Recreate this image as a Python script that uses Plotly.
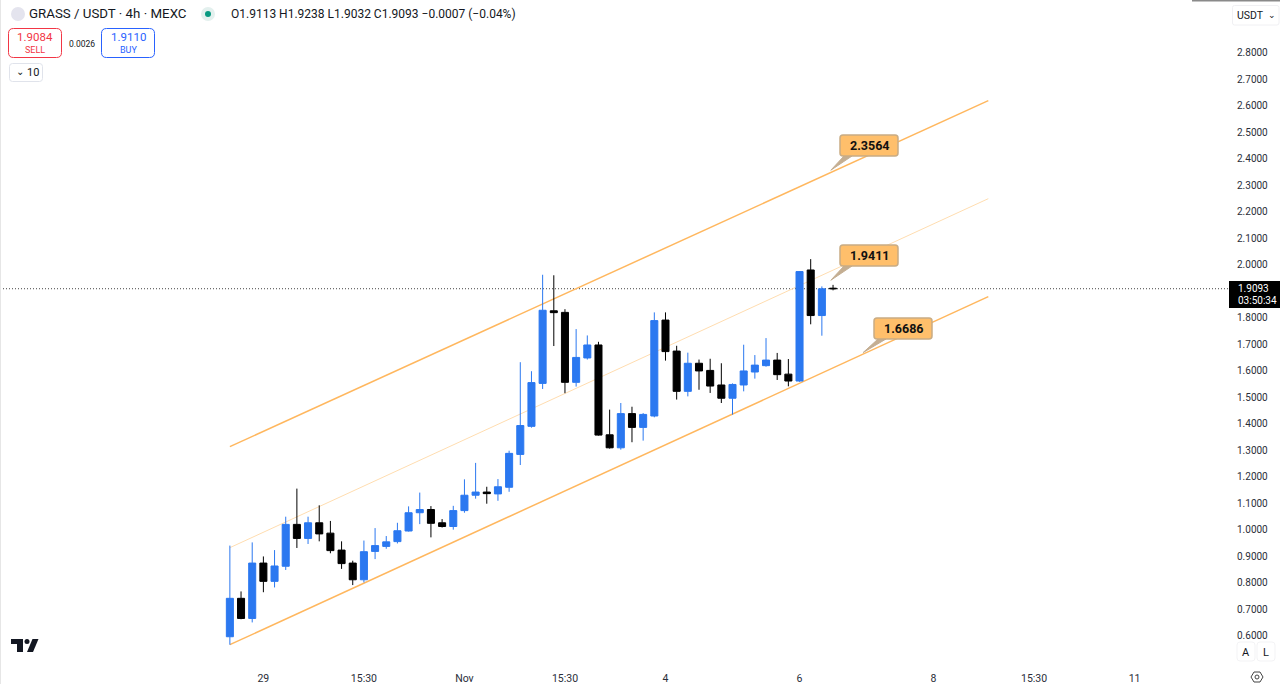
import plotly.graph_objects as go

# 4h candles
opens = [0.596, 0.741, 0.665, 0.874, 0.805, 0.862, 1.020, 0.967, 1.026, 0.987, 0.923,
         0.874, 0.811, 0.918, 0.937, 0.955, 0.995, 1.064, 1.076, 1.026, 1.012, 1.072,
         1.130, 1.142, 1.135, 1.160, 1.284, 1.390, 1.552, 1.826, 1.820, 1.556, 1.648,
         1.697, 1.358, 1.309, 1.438, 1.386, 1.429, 1.791, 1.674, 1.522, 1.628, 1.601,
         1.546, 1.496, 1.546, 1.595, 1.619, 1.640, 1.587, 1.561, 1.980, 1.808, 1.9113]
highs = [0.940, 0.767, 0.952, 0.899, 0.923, 1.049, 1.155, 1.049, 1.092, 1.033, 0.956,
         0.883, 0.959, 1.006, 0.976, 1.026, 1.088, 1.140, 1.089, 1.040, 1.090, 1.190,
         1.252, 1.162, 1.191, 1.298, 1.632, 1.598, 1.962, 1.960, 1.832, 1.757, 1.733,
         1.709, 1.453, 1.478, 1.464, 1.440, 1.820, 1.820, 1.694, 1.668, 1.642, 1.645,
         1.628, 1.552, 1.698, 1.659, 1.723, 1.667, 1.644, 1.975, 2.021, 1.918, 1.9238]
lows = [0.566, 0.662, 0.650, 0.764, 0.782, 0.848, 0.931, 0.946, 0.956, 0.911, 0.852,
        0.791, 0.801, 0.889, 0.928, 0.948, 0.993, 1.021, 0.971, 1.008, 1.000, 1.064,
        1.117, 1.098, 1.109, 1.143, 1.244, 1.385, 1.531, 1.693, 1.515, 1.540, 1.642,
        1.355, 1.306, 1.302, 1.330, 1.336, 1.424, 1.638, 1.491, 1.503, 1.528, 1.516,
        1.478, 1.434, 1.522, 1.570, 1.615, 1.565, 1.541, 1.558, 1.775, 1.732, 1.9032]
closes = [0.741, 0.665, 0.874, 0.805, 0.863, 1.020, 0.967, 1.026, 0.984, 0.921, 0.872,
          0.811, 0.917, 0.940, 0.954, 0.996, 1.064, 1.076, 1.024, 1.012, 1.072, 1.130,
          1.142, 1.136, 1.162, 1.288, 1.393, 1.555, 1.828, 1.819, 1.556, 1.650, 1.697,
          1.357, 1.309, 1.438, 1.386, 1.435, 1.789, 1.672, 1.522, 1.628, 1.599, 1.542,
          1.496, 1.548, 1.599, 1.621, 1.640, 1.585, 1.561, 1.974, 1.808, 1.909, 1.9093]

tick_index = [3, 12, 21, 30, 39, 51, 63, 72, 81]
tick_labels = ["29", "15:30", "Nov", "15:30", "4", "6", "8", "15:30", "11"]
# 1.9 is covered by the last price box
price_ticks = [0.6, 0.7, 0.8, 0.9, 1.0, 1.1, 1.2, 1.3, 1.4, 1.5, 1.6, 1.7,
               1.8, 2.0, 2.1, 2.2, 2.3, 2.4, 2.5, 2.6, 2.7, 2.8]

# parallel channel ends
channel_x = [0, 67.9]
channel_top = [1.3132, 2.6189]
channel_mid = [0.9321, 2.2491]
channel_low = [0.5660, 1.8792]

callout_prices = [2.3564, 1.9411, 1.6686]
callout_index = [53.8, 53.8, 56.7]

last_price = 1.9093

BLUE = "#2B78F0"
ORANGE = "#FFB75E"
FONT = "Roboto"

W, H = 1280, 684
PLOT_W, PLOT_H = 1228, 655
X_RANGE = [-20.58, 89.36]
Y_RANGE = [0.5271, 2.9988]


def px(x):
    return x / PLOT_W


def py(y):
    return 1 - y / PLOT_H


def data_x(i):
    return (i - X_RANGE[0]) / (X_RANGE[1] - X_RANGE[0]) * PLOT_W


def data_y(p):
    return (Y_RANGE[1] - p) / (Y_RANGE[1] - Y_RANGE[0]) * PLOT_H


def round_rect(x0, y0, x1, y1, r):
    a, b, c, d = px(x0), px(x1), py(y0), py(y1)
    rx, ry = r / PLOT_W, r / PLOT_H
    return (f"M {a + rx} {c} L {b - rx} {c} Q {b} {c} {b} {c - ry} L {b} {d + ry} Q {b} {d} {b - rx} {d} "
            f"L {a + rx} {d} Q {a} {d} {a} {d + ry} L {a} {c - ry} Q {a} {c} {a + rx} {c} Z")


def poly(points):
    return "M " + " L ".join(f"{px(x)} {py(y)}" for x, y in points) + " Z"


shapes = []
annotations = []


def add_path(path, fill="rgba(0,0,0,0)", line="rgba(0,0,0,0)", width=1):
    shapes.append(dict(type="path", xref="paper", yref="paper", path=path,
                       fillcolor=fill, line=dict(color=line, width=width), layer="above"))


def add_text(x, y, text, size=11, color="#131722", anchor="left", bold=False):
    if bold:
        text = f"<b>{text}</b>"
    annotations.append(dict(xref="paper", yref="paper", x=px(x), y=py(y), text=text, showarrow=False,
                            xanchor=anchor, yanchor="middle", borderpad=0,
                            font=dict(family=FONT, size=size, color=color)))


def add_dot(cx, cy, r, fill, line="rgba(0,0,0,0)", width=1):
    shapes.append(dict(type="circle", xref="paper", yref="paper", x0=px(cx - r), x1=px(cx + r),
                       y0=py(cy + r), y1=py(cy - r), fillcolor=fill,
                       line=dict(color=line, width=width), layer="above"))


fig = go.Figure()
fig.add_trace(go.Candlestick(
    x=list(range(len(opens))), open=opens, high=highs, low=lows, close=closes,
    increasing=dict(line=dict(color=BLUE, width=1), fillcolor=BLUE),
    decreasing=dict(line=dict(color="#000000", width=1), fillcolor="#000000"),
    whiskerwidth=0, showlegend=False,
))

# channel and last price line sit under the candles
for ys, color, width in [(channel_top, ORANGE, 1.5), (channel_mid, "#FFDDB0", 1), (channel_low, ORANGE, 1.5)]:
    shapes.append(dict(type="line", xref="x", yref="y", x0=channel_x[0], x1=channel_x[1], y0=ys[0], y1=ys[1],
                       line=dict(color=color, width=width), layer="below"))
shapes.append(dict(type="line", xref="paper", yref="y", x0=0, x1=1, y0=last_price, y1=last_price,
                   line=dict(color="#444444", width=1, dash="1px,2px"), layer="below"))

# price callouts
box_left = [840, 840, 874]
box_top = [135, 245, 318]
for price, idx, bx, by in zip(callout_prices, callout_index, box_left, box_top):
    tip = (data_x(idx), data_y(price))
    add_path(poly([tip, (bx + 4, by + 21), (bx + 12, by + 21)]), fill="#C4AE92", line="#C4AE92")
    add_path(round_rect(bx, by, bx + 58, by + 21, 3), fill="#FFBF6B", line="#C9AC84", width=1.5)
    add_text(bx + 29, by + 10.5, f"{price:.4f}", size=12.5, color="#111111", anchor="center", bold=True)

# header
add_dot(18, 14, 7, "#E4E4EE")
add_text(28, 14, "GRASS / USDT · 4h · MEXC", size=13.3)
add_dot(208, 14, 7, "#E3F0EE")
add_dot(208, 14, 3, "#089981")
add_text(230, 14, "O1.9113 H1.9238 L1.9032 C1.9093 −0.0007 (−0.04%)", size=12)

add_path(round_rect(8.5, 28.5, 61.5, 57.5, 5), fill="#FFFFFF", line="#F23645")
add_text(35, 37, "1.9084", size=11.5, color="#F23645", anchor="center")
add_text(35, 50, "SELL", size=9, color="#F23645", anchor="center")
add_text(81.5, 44, "0.0026", size=8.5, anchor="center")
add_path(round_rect(101.5, 28.5, 154.5, 57.5, 5), fill="#FFFFFF", line="#2962FF")
add_text(128, 37, "1.9110", size=11.5, color="#2962FF", anchor="center")
add_text(128, 50, "BUY", size=9, color="#2962FF", anchor="center")
add_path(round_rect(9.5, 63.5, 42.5, 81.5, 3), fill="#FFFFFF", line="#E0E3EB")
add_text(15, 71.5, "⌄", size=10, anchor="left")
add_text(26, 72.5, "10", size=11)

# right hand scale extras
add_path(poly([(1192, 0), (1280, 0), (1280, 1.5), (1192, 1.5)]), fill="#8A8A8A")
add_path(round_rect(1232.5, 5.5, 1279, 25, 2), fill="#FFFFFF", line="#F0F0F3")
add_text(1236, 15, "USDT", size=10.5)
add_text(1272, 15, "⌄", size=9, anchor="center")
add_path(poly([(1229, 281), (1280, 281), (1280, 308), (1229, 308)]), fill="#000000")
add_text(1237, 288.5, "1.9093", size=10, color="#FFFFFF")
add_text(1237, 301, "03:50:34", size=10, color="#FFFFFF")
add_path(round_rect(1237, 642, 1255, 661, 3), fill="#FFFFFF", line="#F3F3F5")
add_text(1246, 652, "A", size=11, anchor="center")
add_path(round_rect(1257, 642, 1275, 661, 3), fill="#FFFFFF", line="#F3F3F5")
add_text(1266, 652, "L", size=11, anchor="center")
add_path(poly([(1251, 677), (1254, 672), (1260, 672), (1263, 677), (1260, 682), (1254, 682)]),
         line="#444444", width=1)
add_dot(1257, 677, 2, "rgba(0,0,0,0)", line="#444444")

# logo
add_path(poly([(11, 639), (23, 639), (23, 652), (17, 652), (17, 644), (11, 644)]), fill="#131722")
add_dot(27, 641.5, 2.5, "#131722")
add_path(poly([(32.5, 639), (38.5, 639), (33, 652), (27, 652)]), fill="#131722")

# page edge
add_path(poly([(0, 0), (1, 0), (1, 684), (0, 684)]), fill="#E6E6E6")

fig.update_layout(
    width=W, height=H,
    margin=dict(l=0, r=W - PLOT_W, t=0, b=H - PLOT_H, pad=0),
    paper_bgcolor="#FFFFFF", plot_bgcolor="#FFFFFF",
    showlegend=False, boxgap=0.1,
    shapes=shapes, annotations=annotations,
    font=dict(family=FONT, color="#2A2E39", size=10),
)
fig.update_xaxes(range=X_RANGE, showgrid=False, zeroline=False, showline=False, rangeslider_visible=False,
                 tickmode="array", tickvals=tick_index, ticktext=tick_labels, ticks="",
                 ticklabelstandoff=15, tickfont=dict(family=FONT, size=10.5, color="#2A2E39"))
fig.update_yaxes(range=Y_RANGE, side="right", showgrid=False, zeroline=False, showline=False,
                 tickmode="array", tickvals=price_ticks, ticktext=[f"{v:.4f}" for v in price_ticks], ticks="",
                 ticklabelstandoff=8, tickfont=dict(family=FONT, size=10, color="#2A2E39"))

fig.write_html("out.html", config=dict(displayModeBar=False),
               post_script="document.body.style.margin='0';document.body.style.overflow='hidden';")
